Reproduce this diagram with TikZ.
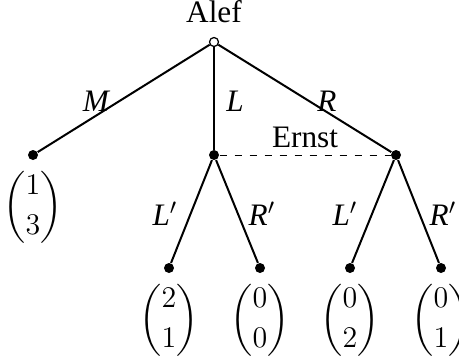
\documentclass[tikz,border=0pt]{standalone}
\usepackage{amsmath}
\usepackage[no-math]{fontspec}
\setmainfont{Liberation Serif}
\begin{document}
\begin{tikzpicture}[x=0.4pt,y=-0.4pt,
  edge/.style={line width=0.8pt},
  dot/.style={circle,fill=black,inner sep=0pt,minimum size=4pt},
  odot/.style={circle,draw=black,fill=white,line width=0.5pt,inner sep=0pt,minimum size=3.6pt},
  lab/.style={font=\fontsize{12.5}{15}\selectfont\itshape},
  txt/.style={font=\fontsize{12.5}{15}\selectfont},
  pay/.style={font=\fontsize{12.5}{15}\selectfont}]
\useasboundingbox (0,0) rectangle (459,362);
\node[odot] (r) at (214,42) {};
\node[txt,anchor=south] (alef) at (214,32) {Alef};
\node[dot] (a) at (33,155) {};
\node[dot] (b) at (214,155) {};
\node[dot] (c) at (396,155) {};
\node[dot] (b1) at (169,268) {};
\node[dot] (b2) at (260,268) {};
\node[dot] (c1) at (350,268) {};
\node[dot] (c2) at (441,268) {};
\draw[edge] (r) -- (a);
\draw[edge] (r) -- (b);
\draw[edge] (r) -- (c);
\draw[edge] (b) -- (b1);
\draw[edge] (b) -- (b2);
\draw[edge] (c) -- (c1);
\draw[edge] (c) -- (c2);
\draw[dashed,line width=0.4pt] (b) -- (c);
\node[lab] (lm) at (96,101) {M};
\node[lab] (ll) at (235,101) {L};
\node[lab] (lr) at (327,101) {R};
\node[txt] (ernst) at (305,137) {Ernst};
\node[lab] (lb1) at (165,214) {L$'$};
\node[lab] (lb2) at (262,214) {R$'$};
\node[lab] (lc1) at (345,214) {L$'$};
\node[lab] (lc2) at (443,214) {R$'$};
\node[pay] (pa) at (33,207) {$\begin{pmatrix}1\\[1pt]3\end{pmatrix}$};
\node[pay] (pb1) at (169,320) {$\begin{pmatrix}2\\[1pt]1\end{pmatrix}$};
\node[pay] (pb2) at (260,320) {$\begin{pmatrix}0\\[1pt]0\end{pmatrix}$};
\node[pay] (pc1) at (350,320) {$\begin{pmatrix}0\\[1pt]2\end{pmatrix}$};
\node[pay] (pc2) at (441,320) {$\begin{pmatrix}0\\[1pt]1\end{pmatrix}$};
\end{tikzpicture}
\end{document}
